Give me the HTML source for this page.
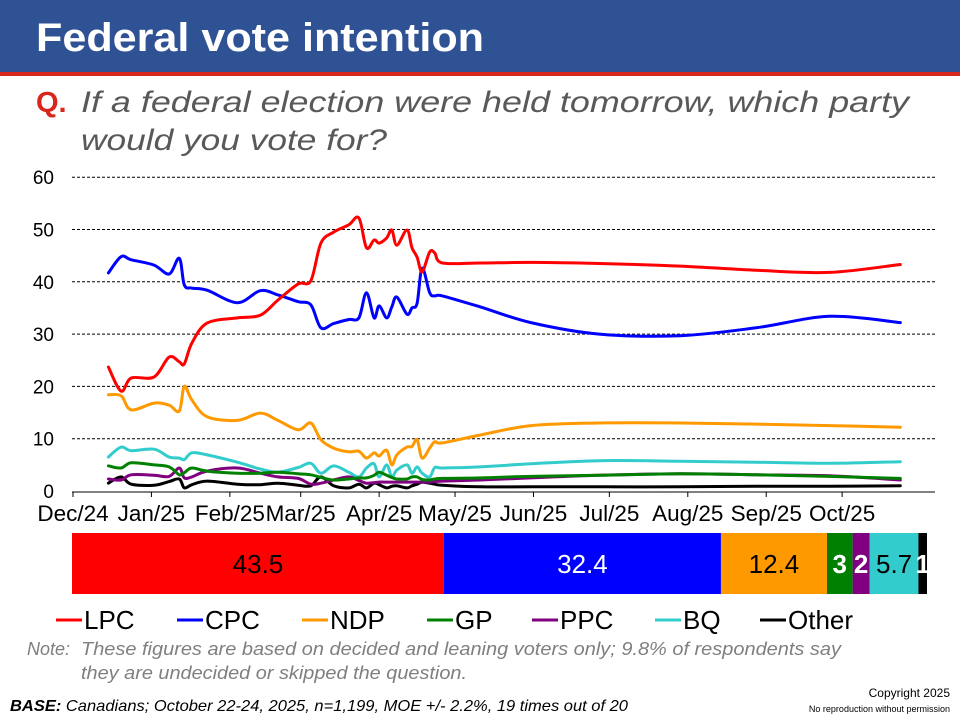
<!DOCTYPE html>
<html><head><meta charset="utf-8"><style>
html,body{margin:0;padding:0;background:#fff;}
svg{display:block;font-family:"Liberation Sans",sans-serif;}
</style></head><body>
<svg id="chart" width="960" height="720" viewBox="0 0 960 720">
<rect x="0" y="0" width="960" height="72" fill="#2f5294"/>
<rect x="0" y="72" width="960" height="4" fill="#d9261c"/>
<text x="36" y="51" fill="#fff" font-size="40" font-weight="bold" textLength="448" lengthAdjust="spacingAndGlyphs">Federal vote intention</text>
<text x="36" y="112" fill="#d9261c" font-size="29" font-weight="bold">Q.</text>
<text x="81" y="112" fill="#595959" font-size="30" font-style="italic" textLength="828" lengthAdjust="spacingAndGlyphs">If a federal election were held tomorrow, which party</text>
<text x="81" y="150" fill="#595959" font-size="30" font-style="italic" textLength="306" lengthAdjust="spacingAndGlyphs">would you vote for?</text>
<g id="grid"></g><g id="axes"></g><g id="lines"></g><g id="stack"></g>
<g id="legend"></g>
<text x="27" y="655" fill="#7f7f7f" font-size="18" font-style="italic">Note:</text>
<text x="81" y="655" fill="#7f7f7f" font-size="18" font-style="italic" textLength="760" lengthAdjust="spacingAndGlyphs">These figures are based on decided and leaning voters only; 9.8% of respondents say</text>
<text x="81" y="679" fill="#7f7f7f" font-size="18" font-style="italic" textLength="386" lengthAdjust="spacingAndGlyphs">they are undecided or skipped the question.</text>
<text x="10" y="711" fill="#000" font-size="16" font-style="italic" textLength="618" lengthAdjust="spacingAndGlyphs"><tspan font-weight="bold">BASE:</tspan> Canadians; October 22-24, 2025, n=1,199, MOE +/- 2.2%, 19 times out of 20</text>
<text x="950" y="697" fill="#000" font-size="12" text-anchor="end">Copyright 2025</text>
<text x="950" y="712" fill="#000" font-size="9" text-anchor="end">No reproduction without permission</text>
</svg>
<script>
const yTicks=[0,10,20,30,40,50,60];
const monthLabels=["Dec/24","Jan/25","Feb/25","Mar/25","Apr/25","May/25","Jun/25","Jul/25","Aug/25","Sep/25","Oct/25"];
const monthDays=[0,31,62,90,121,151,182,212,243,274,304];
const partyNames=["LPC","CPC","NDP","GP","PPC","BQ","Other"];
const partyColors=["#ff0000","#0000ff","#ff9900","#008000","#800080","#33cccc","#000000"];
const latest=[43.5,32.4,12.4,3,2,5.7,1];
const latestLabels=["43.5","32.4","12.4","3","2","5.7","1"];
const days=[14,19,23,32,38,42,44,47,53,65,74,81,89,94,98,103,109,113,116,119,121,124,126,128,132,134,136,138,141,143,146,161,181,208,240,270,299,327];
const lpc=[23.7,19.1,21.6,21.8,25.6,24.7,24.3,28.3,32.1,33.1,33.6,36.5,39.6,40.2,47.4,49.5,50.9,52.2,46.5,48,47.4,48.4,49.9,47,49.9,46.5,44.7,41.9,45.7,45.5,43.6,43.6,43.7,43.5,43,42.2,41.8,43.3];
const cpc=[41.7,44.8,44.2,43.2,41.5,44.5,39.4,38.8,38.4,36,38.3,37.5,36.2,35.6,31.2,32,32.8,33.1,37.9,33.1,35.4,33.1,35.2,37.1,33.8,35,35.9,42.6,37.9,37.3,37.3,35.2,32.2,30,29.7,31.2,33.4,32.2];
const ndp=[18.4,18.2,15.5,16.8,16.4,15.3,20,17.4,14.2,13.5,14.9,13.5,11.7,13,9.8,8.2,7.5,7.6,6.3,7.3,6.7,7.8,5,6.9,8.4,8.5,9.8,6.3,8.2,9.4,9.2,10.7,12.5,13,13,12.8,12.5,12.2];
const gp=[4.8,4.4,5.4,5,4.6,3.1,3.5,4.4,3.8,3.4,3.4,3.6,3.3,3.1,2.6,2.1,2.3,2.5,2.5,3,3.6,3,2.6,2.3,2.3,2.7,2.7,2.2,2.1,2.3,2.4,2.5,2.8,3,3.3,3.1,2.8,2.4];
const ppc=[2.3,2.1,3.1,3,2.8,4.4,2.5,2.7,3.8,4.4,3.4,2.7,2.4,1.3,1.5,2.1,2.7,2,1.5,1.6,1.7,1.7,1.7,1.7,1.7,1.7,1.7,1.7,1.7,1.8,1.9,2.1,2.5,3,3.3,3.1,2.9,2.1];
const bq=[6.5,8.4,7.7,8,6.5,6.3,6,7.3,6.9,5.5,4.2,3.6,4.5,5.3,3.4,4.8,3.6,2.7,4.4,5.2,2.7,5,2.7,4,5,3.4,4.6,3.4,2.7,4.5,4.4,4.6,5.2,5.8,5.7,5.5,5.3,5.6];
const other=[1.5,2.7,1.3,1.1,1.8,2.3,0.6,1.2,1.9,1.3,1.2,1.5,1.1,1,2.7,1,0.6,1.3,0.6,1.5,1.2,0.6,0.9,1,0.6,1,1.3,1.7,1.5,1.3,1.1,0.8,0.8,0.8,0.8,0.9,0.9,1.0];
const series=[lpc,cpc,ndp,gp,ppc,bq,other];

const NS="http://www.w3.org/2000/svg";
function mk(tag,attrs,parent){const e=document.createElementNS(NS,tag);for(const k in attrs)e.setAttribute(k,attrs[k]);parent.appendChild(e);return e;}
const X0=73,PX_PER_DAY=2.53,Y0=491,PX_PER_UNIT=5.23;
function xScale(d){return X0+d*PX_PER_DAY;}
function yScale(v){return Y0-v*PX_PER_UNIT;}
const grid=document.getElementById('grid'),axes=document.getElementById('axes'),lines=document.getElementById('lines');
yTicks.forEach(t=>{
  if(t>0){const g=mk('line',{x1:72,x2:935,y1:yScale(t),y2:yScale(t),stroke:'#000','stroke-width':1,'stroke-dasharray':'3,2'},grid);
  
  }
  const l=mk('text',{x:54,y:yScale(t)+7,'font-size':19,'text-anchor':'end',fill:'#000'},axes);l.textContent=t;
  
  
});
const ax=mk('line',{x1:72,x2:935,y1:Y0+1,y2:Y0+1,stroke:'#000','stroke-width':1},axes);


monthLabels.forEach((m,i)=>{
  const x=xScale(monthDays[i]);
  const tk=mk('line',{x1:x,x2:x,y1:Y0+1,y2:Y0+6,stroke:'#000'},axes);
  
  
  const t=mk('text',{x:x,y:521,'font-size':22.5,'text-anchor':'middle',fill:'#000'},axes);t.textContent=m;
  
  
});
function smoothPath(pts){
  let d='M'+pts[0][0]+','+pts[0][1];
  for(let i=0;i<pts.length-1;i++){
    const p0=pts[i-1]||pts[i],p1=pts[i],p2=pts[i+1],p3=pts[i+2]||p2;
    const c1=[p1[0]+(p2[0]-p0[0])/6,p1[1]+(p2[1]-p0[1])/6],c2=[p2[0]-(p3[0]-p1[0])/6,p2[1]-(p3[1]-p1[1])/6];
    d+=' C'+c1[0].toFixed(1)+','+c1[1].toFixed(1)+' '+c2[0].toFixed(1)+','+c2[1].toFixed(1)+' '+p2[0].toFixed(1)+','+p2[1].toFixed(1);
  }
  return d;
}
for(let s=series.length-1;s>=0;s--){
  const pts=days.map((d,i)=>[xScale(d),yScale(series[s][i])]);
  const p=mk('path',{d:smoothPath(pts),fill:'none',stroke:partyColors[s],'stroke-width':3,'stroke-linejoin':'round','stroke-linecap':'round'},lines);
  
  
}
const stack=document.getElementById('stack');
const total=latest.reduce((a,b)=>a+b,0);
const BX=72,BW=855;let cx=BX;
const textCols=["#000","#fff","#000","#fff","#fff","#000","#fff"];
latest.forEach((v,i)=>{
  const w=v/total*BW;
  const r=mk('rect',{x:cx,y:533,width:w,height:61,fill:partyColors[i]},stack);
  
  
  const t=mk('text',{x:cx+w/2,y:573,'font-size':26,'text-anchor':'middle',fill:textCols[i],'font-weight':(v<4?'bold':'normal')},stack);
  t.textContent=latestLabels[i];
  
  
  cx+=w;
});
const legend=document.getElementById('legend');
const legX=[56,177,302,427,532,655,760];
partyNames.forEach((n,i)=>{
  const g=mk('g',{},legend);
  
  
  mk('line',{x1:legX[i],x2:legX[i]+26,y1:620,y2:620,stroke:partyColors[i],'stroke-width':3},g);
  const t=mk('text',{x:legX[i]+28,y:629,'font-size':26,fill:'#000'},g);t.textContent=n;
});
</script>
</body></html>
